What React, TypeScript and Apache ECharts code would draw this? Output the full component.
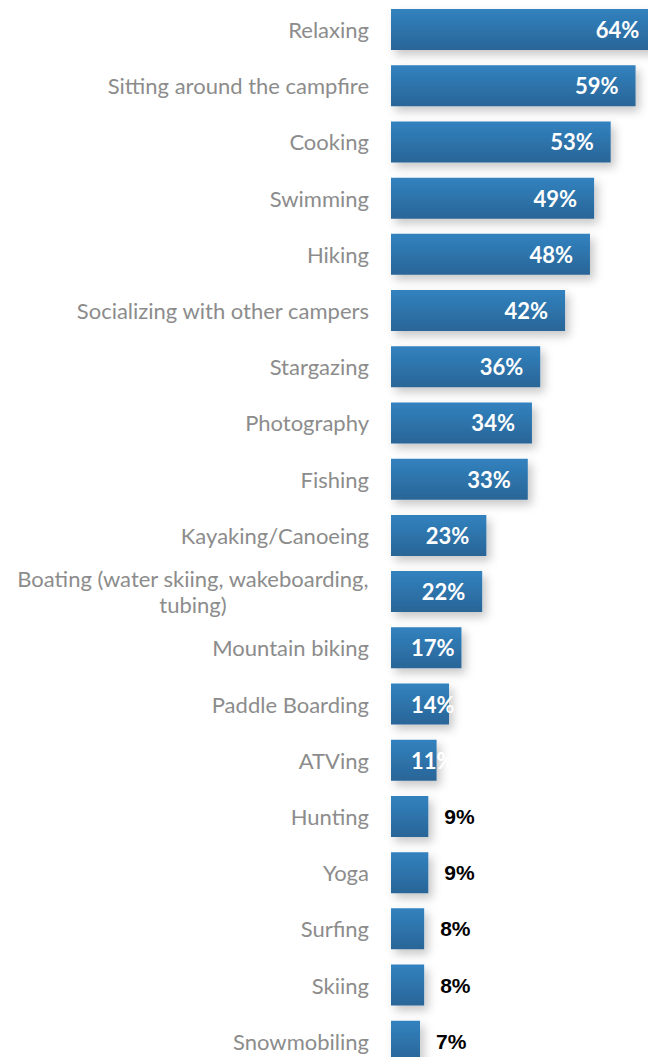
import React, { useEffect, useRef } from "react";
import * as echarts from "echarts";

const categories = [
  "Relaxing",
  "Sitting around the campfire",
  "Cooking",
  "Swimming",
  "Hiking",
  "Socializing with other campers",
  "Stargazing",
  "Photography",
  "Fishing",
  "Kayaking/Canoeing",
  "Boating (water skiing, wakeboarding, tubing)",
  "Mountain biking",
  "Paddle Boarding",
  "ATVing",
  "Hunting",
  "Yoga",
  "Surfing",
  "Skiing",
  "Snowmobiling",
];

const values = [64, 59, 53, 49, 48, 42, 36, 34, 33, 23, 22, 17, 14, 11, 9, 9, 8, 8, 7];

const CAT_FONT = "Lato, 'Noto Sans', sans-serif";

function labelFor(v: number) {
  if (v <= 9) {
    return {
      show: true,
      position: "right",
      distance: 16,
      color: "#000000",
      fontFamily: "'Liberation Sans', Arial, sans-serif",
      fontWeight: "bold",
      fontSize: 21,
      formatter: "{c}%",
    };
  }
  if (v <= 17) {
    return {
      show: true,
      position: "insideLeft",
      distance: 20,
      color: "#ffffff",
      fontFamily: CAT_FONT,
      fontWeight: "bold",
      fontSize: 22,
      formatter: "{c}%",
    };
  }
  return {
    show: true,
    position: "insideRight",
    distance: 17,
    color: "#ffffff",
    fontFamily: CAT_FONT,
    fontWeight: "bold",
    fontSize: 22,
    formatter: "{c}%",
  };
}

export default function App() {
  const ref = useRef<HTMLDivElement>(null);

  useEffect(() => {
    if (!ref.current) return;
    const chart = echarts.init(ref.current, undefined, { renderer: "svg" });
    const gradient = new echarts.graphic.LinearGradient(0, 0, 0, 1, [
      { offset: 0, color: "#3182bf" },
      { offset: 1, color: "#2a6597" },
    ]);
    chart.setOption({
      animation: false,
      backgroundColor: "#ffffff",
      grid: { left: 391, right: 0, top: 1.4, height: 1068, containLabel: false },
      xAxis: {
        type: "value",
        min: 0,
        max: 62,
        show: false,
        splitLine: { show: false },
      },
      yAxis: {
        type: "category",
        data: categories,
        inverse: true,
        axisLine: { show: false },
        axisTick: { show: false },
        axisLabel: {
          margin: 22,
          color: "#8c8c8c",
          fontFamily: CAT_FONT,
          fontSize: 22,
          formatter: (val: string) => {
            if (val.startsWith("Boating")) {
              return "{c|Boating (water skiing, wakeboarding,}\n{c|tubing)}";
            }
            return val;
          },
          rich: {
            c: {
              align: "center",
              color: "#8c8c8c",
              fontFamily: CAT_FONT,
              fontSize: 22,
              lineHeight: 26,
            },
          },
        },
      },
      series: [
        {
          type: "bar",
          clip: false,
          barWidth: 41,
          data: values.map((v) => ({
            value: v,
            label: labelFor(v),
          })),
          itemStyle: {
            color: gradient,
            shadowColor: "rgba(0,0,0,0.22)",
            shadowBlur: 10,
            shadowOffsetX: 4,
            shadowOffsetY: 5,
          },
        },
      ],
    });
    return () => chart.dispose();
  }, []);

  return (
    <div
      style={{
        position: "absolute",
        left: 0,
        top: 0,
        width: 648,
        height: 1057,
        overflow: "hidden",
        background: "#ffffff",
      }}
    >
      <div ref={ref} style={{ width: 648, height: 1075 }} />
    </div>
  );
}
